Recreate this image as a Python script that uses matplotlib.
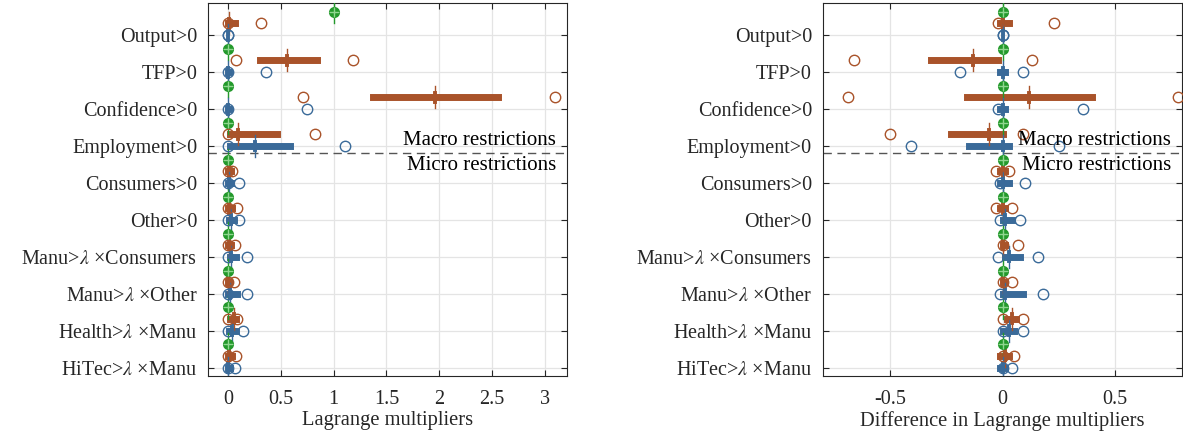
"""
Two-panel compact box plot of Lagrange multipliers (levels and differences).
"""

import numpy as np
import matplotlib.pyplot as plt

plt.rcParams["font.family"] = ["Liberation Serif", "DejaVu Serif"]
plt.rcParams["mathtext.fontset"] = "stix"

LABELS = [
    "Output>0", "TFP>0", "Confidence>0", "Employment>0", "Consumers>0", "Other>0",
    r"Manu>$\lambda$ ×Consumers", r"Manu>$\lambda$ ×Other",
    r"Health>$\lambda$ ×Manu", r"HiTec>$\lambda$ ×Manu",
]

GREEN = "#23992b"
ORANGE = "#a9532a"
BLUE = "#3a6a99"

# ---- left panel: Lagrange multipliers ----
L_GREEN_MED = [1, 0, 0, 0, 0, 0, 0, 0, 0, 0]

L_ORANGE_MED = [0.01, 0.56, 1.96, 0.09, 0.01, 0.01, 0.01, 0.00, 0.05, 0.01]
L_ORANGE_Q1 = [0.00, 0.30, 1.37, 0.02, 0.00, 0.00, 0.00, 0.00, 0.02, 0.00]
L_ORANGE_Q3 = [0.06, 0.84, 2.56, 0.46, 0.03, 0.04, 0.03, 0.01, 0.07, 0.04]
L_ORANGE_LO = [0.00, 0.07, 0.71, 0.00, 0.00, 0.00, 0.00, 0.00, 0.00, 0.00]
L_ORANGE_HI = [0.31, 1.18, 3.10, 0.82, 0.04, 0.08, 0.06, 0.05, 0.08, 0.07]

L_BLUE_MED = [0.00, 0.00, 0.00, 0.25, 0.01, 0.03, 0.03, 0.02, 0.04, 0.00]
L_BLUE_Q1 = [0.00, 0.00, 0.00, 0.02, 0.00, 0.01, 0.02, 0.00, 0.01, 0.00]
L_BLUE_Q3 = [0.00, 0.01, 0.01, 0.59, 0.03, 0.05, 0.07, 0.08, 0.07, 0.02]
L_BLUE_LO = [0.00, 0.00, 0.00, 0.00, 0.00, 0.00, 0.00, 0.00, 0.00, 0.00]
L_BLUE_HI = [0.00, 0.36, 0.75, 1.11, 0.10, 0.10, 0.18, 0.18, 0.14, 0.06]

# ---- right panel: differences ----
R_GREEN_MED = [0, 0, 0, 0, 0, 0, 0, 0, 0, 0]

R_ORANGE_MED = [0.00, -0.13, 0.12, -0.06, 0.00, 0.00, 0.00, 0.00, 0.04, 0.01]
R_ORANGE_Q1 = [-0.01, -0.32, -0.16, -0.23, -0.01, -0.01, 0.00, 0.00, 0.02, -0.01]
R_ORANGE_Q3 = [0.03, -0.02, 0.40, 0.00, 0.01, 0.01, 0.01, 0.01, 0.06, 0.03]
R_ORANGE_LO = [-0.02, -0.66, -0.69, -0.50, -0.03, -0.03, 0.00, 0.00, 0.00, 0.00]
R_ORANGE_HI = [0.23, 0.13, 0.78, 0.09, 0.03, 0.04, 0.07, 0.04, 0.09, 0.05]

R_BLUE_MED = [0.00, 0.00, 0.00, 0.00, 0.00, 0.01, 0.03, 0.01, 0.03, 0.00]
R_BLUE_Q1 = [0.00, -0.01, -0.01, -0.15, -0.01, 0.00, 0.01, 0.00, 0.00, -0.01]
R_BLUE_Q3 = [0.00, 0.01, 0.01, 0.03, 0.03, 0.04, 0.08, 0.09, 0.05, 0.01]
R_BLUE_LO = [0.00, -0.19, -0.02, -0.41, -0.01, -0.01, -0.02, -0.01, 0.00, 0.00]
R_BLUE_HI = [0.00, 0.09, 0.36, 0.25, 0.10, 0.08, 0.16, 0.18, 0.09, 0.04]

# vertical offset of each series relative to the row tick
OFF_GREEN, OFF_ORANGE, OFF_BLUE = -0.63, -0.32, 0.0


def draw_series(ax, color, off, med, q1, q3, lo, hi):
    y = np.arange(1, len(med) + 1) + off
    for yi, m, a, b, l, h in zip(y, med, q1, q3, lo, hi):
        ax.plot([a, b], [yi, yi], color=color, lw=5, solid_capstyle="projecting", zorder=3)
        ax.plot([m, m], [yi - 0.3, yi + 0.3], color=color, lw=1.0, zorder=4)
        ax.plot([m, m], [yi - 0.12, yi + 0.12], color=color, lw=2.8, zorder=4)
        ax.plot([l, h], [yi, yi], ls="none", marker="o", ms=7.5, mfc="none",
                mec=color, mew=1.0, zorder=5)


def draw_green(ax, med):
    y = np.arange(1, len(med) + 1) + OFF_GREEN
    for yi, m in zip(y, med):
        ax.plot([m, m], [yi - 0.3, yi + 0.3], color=GREEN, lw=1.0, zorder=4)
        ax.plot([m], [yi], marker="o", ms=7, mfc=GREEN, mec=GREEN, zorder=5)
        ax.plot([m], [yi], marker="+", ms=6.5, mec="#8fd68f", mew=1.0, zorder=6)


fig = plt.figure(figsize=(11.83, 4.38), dpi=100)
ax1 = fig.add_axes([0.176, 0.142, 0.303, 0.851])
ax2 = fig.add_axes([0.6957, 0.142, 0.3035, 0.851])

draw_green(ax1, L_GREEN_MED)
draw_series(ax1, ORANGE, OFF_ORANGE, L_ORANGE_MED, L_ORANGE_Q1, L_ORANGE_Q3, L_ORANGE_LO, L_ORANGE_HI)
draw_series(ax1, BLUE, OFF_BLUE, L_BLUE_MED, L_BLUE_Q1, L_BLUE_Q3, L_BLUE_LO, L_BLUE_HI)

draw_green(ax2, R_GREEN_MED)
draw_series(ax2, ORANGE, OFF_ORANGE, R_ORANGE_MED, R_ORANGE_Q1, R_ORANGE_Q3, R_ORANGE_LO, R_ORANGE_HI)
draw_series(ax2, BLUE, OFF_BLUE, R_BLUE_MED, R_BLUE_Q1, R_BLUE_Q3, R_BLUE_LO, R_BLUE_HI)

ax1.set_xlim(-0.19, 3.21)
ax1.set_xticks([0, 0.5, 1, 1.5, 2, 2.5, 3])
ax1.set_xticklabels(["0", "0.5", "1", "1.5", "2", "2.5", "3"])
ax2.set_xlim(-0.8, 0.8)
ax2.set_xticks([-0.5, 0, 0.5])
ax2.set_xticklabels(["-0.5", "0", "0.5"])

for ax, xlabel in [(ax1, "Lagrange multipliers"), (ax2, "Difference in Lagrange multipliers")]:
    ax.set_ylim(10.22, 0.13)
    ax.set_yticks(np.arange(1, 11))
    ax.set_yticklabels(LABELS)
    ax.tick_params(direction="in", length=4, width=0.8, top=True, right=True,
                   labelsize=14.5, colors="#262626")
    ax.tick_params(axis="x", pad=10)
    ax.tick_params(axis="y", pad=8)
    ax.grid(True, color="#e4e4e4", lw=0.9)
    ax.set_axisbelow(True)
    for s in ax.spines.values():
        s.set_color("#262626")
        s.set_linewidth(0.8)
    ax.set_xlabel(xlabel, fontsize=14.8, color="#262626", labelpad=2)
    ax.axhline(4.19, color="#555555", lw=1.0, ls=(0, (6, 4)), zorder=2)
    ax.text(0.97, 4.12, "Macro restrictions", transform=ax.get_yaxis_transform(),
            ha="right", va="bottom", fontsize=15, zorder=7)
    ax.text(0.97, 4.28, "Micro restrictions", transform=ax.get_yaxis_transform(),
            ha="right", va="top", fontsize=15, zorder=7)

fig.savefig("out.png", dpi=100)
